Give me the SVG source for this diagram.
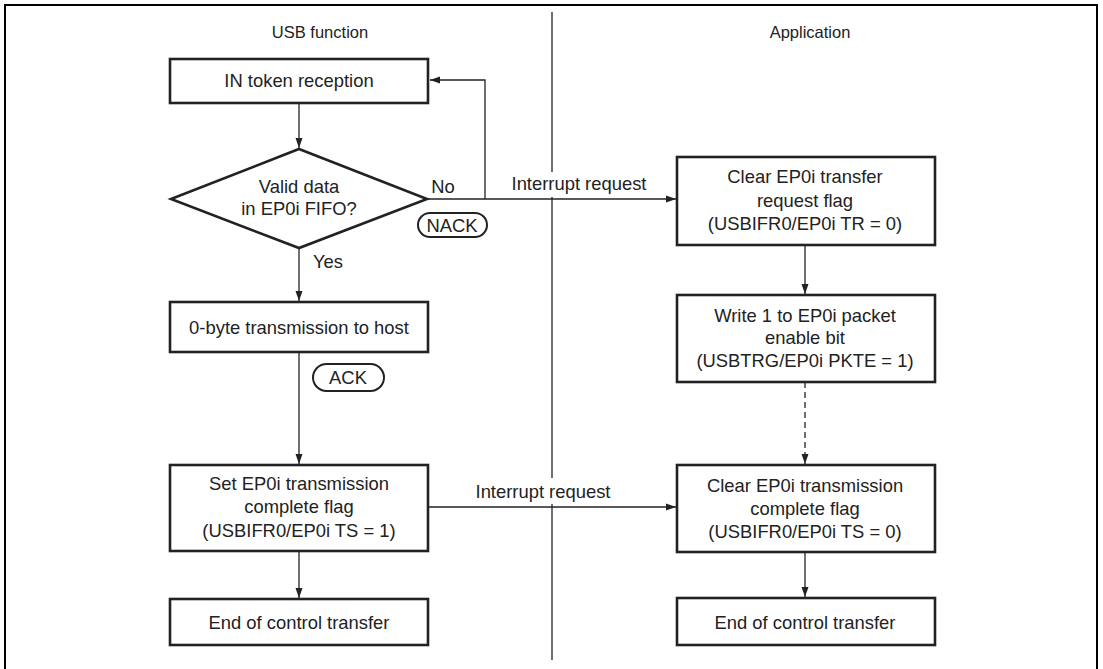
<svg xmlns="http://www.w3.org/2000/svg" width="1103" height="669" viewBox="0 0 1103 669">
<defs>
<style>
.t{font-family:"Liberation Sans",Arial,sans-serif;font-size:18.4px;fill:#222;text-anchor:middle}
.h{font-family:"Liberation Sans",Arial,sans-serif;font-size:16.5px;fill:#222;text-anchor:middle}
.box{fill:#fff;stroke:#222;stroke-width:2.6}
.ln{fill:none;stroke:#222;stroke-width:1.3}
.pill{fill:#fff;stroke:#222;stroke-width:2}
</style>
<marker id="ah" markerWidth="10" markerHeight="8" refX="10" refY="4" orient="auto" markerUnits="userSpaceOnUse">
<path d="M0,0.5 L10,4 L0,7.5 z" fill="#222"/>
</marker>
</defs>
<rect x="0" y="0" width="1103" height="669" fill="#fff"/>
<rect x="5" y="5" width="1092" height="700" fill="none" stroke="#000" stroke-width="2"/>
<text class="h" x="320" y="38">USB function</text>
<text class="h" x="810" y="38">Application</text>

<g id="connectors">
<line class="ln" x1="552" y1="12" x2="552" y2="660"/>
<line class="ln" x1="299" y1="103" x2="299" y2="148" marker-end="url(#ah)"/>
<polyline class="ln" points="485,199 485,80 430,80" marker-end="url(#ah)"/>
<line class="ln" x1="427" y1="199" x2="676" y2="199" marker-end="url(#ah)"/>
<line class="ln" x1="299" y1="248" x2="299" y2="301" marker-end="url(#ah)"/>
<line class="ln" x1="299" y1="352" x2="299" y2="464" marker-end="url(#ah)"/>
<line class="ln" x1="299" y1="551" x2="299" y2="598" marker-end="url(#ah)"/>
<line class="ln" x1="428" y1="507" x2="676" y2="507" marker-end="url(#ah)"/>
<line class="ln" x1="805" y1="245" x2="805" y2="294" marker-end="url(#ah)"/>
<line class="ln" x1="805" y1="382" x2="805" y2="464" stroke-dasharray="6,4" marker-end="url(#ah)"/>
<line class="ln" x1="805" y1="552" x2="805" y2="597" marker-end="url(#ah)"/>
<rect x="510" y="172" width="140" height="25" fill="#fff"/>
<text class="t" x="579" y="190">Interrupt request</text>
<rect x="473" y="478" width="140" height="26" fill="#fff"/>
<text class="t" x="543" y="498">Interrupt request</text>
<text class="t" x="443" y="193">No</text>
<text class="t" x="328" y="268">Yes</text>
</g>

<g id="in_token">
<rect class="box" x="170" y="59" width="258" height="44"/>
<text class="t" x="299" y="87">IN token reception</text>
</g>
<g id="valid_data">
<polygon class="box" points="299,149 427,199 299,248 171,199"/>
<text class="t" x="299" y="193">Valid data</text>
<text class="t" x="299" y="215">in EP0i FIFO?</text>
</g>
<g id="nack">
<rect class="pill" x="418" y="213" width="69" height="24" rx="12"/>
<text class="t" x="452" y="232">NACK</text>
</g>
<g id="zero_byte">
<rect class="box" x="170" y="302" width="258" height="50"/>
<text class="t" x="299" y="334">0-byte transmission to host</text>
</g>
<g id="ack">
<rect class="pill" x="313" y="364" width="71" height="27" rx="13.5"/>
<text class="t" x="348" y="384">ACK</text>
</g>
<g id="set_ts">
<rect class="box" x="170" y="465" width="258" height="86"/>
<text class="t" x="299" y="490">Set EP0i transmission</text>
<text class="t" x="299" y="513">complete flag</text>
<text class="t" x="299" y="537">(USBIFR0/EP0i TS = 1)</text>
</g>
<g id="end_left">
<rect class="box" x="170" y="599" width="258" height="46"/>
<text class="t" x="299" y="629">End of control transfer</text>
</g>
<g id="clear_tr">
<rect class="box" x="677" y="157" width="258" height="88"/>
<text class="t" x="805" y="183">Clear EP0i transfer</text>
<text class="t" x="805" y="207">request flag</text>
<text class="t" x="805" y="230">(USBIFR0/EP0i TR = 0)</text>
</g>
<g id="write_pkte">
<rect class="box" x="677" y="295" width="258" height="87"/>
<text class="t" x="805" y="322">Write 1 to EP0i packet</text>
<text class="t" x="805" y="344">enable bit</text>
<text class="t" x="805" y="367">(USBTRG/EP0i PKTE = 1)</text>
</g>
<g id="clear_ts">
<rect class="box" x="677" y="465" width="258" height="87"/>
<text class="t" x="805" y="492">Clear EP0i transmission</text>
<text class="t" x="805" y="515">complete flag</text>
<text class="t" x="805" y="538">(USBIFR0/EP0i TS = 0)</text>
</g>
<g id="end_right">
<rect class="box" x="677" y="598" width="258" height="47"/>
<text class="t" x="805" y="629">End of control transfer</text>
</g>
</svg>
